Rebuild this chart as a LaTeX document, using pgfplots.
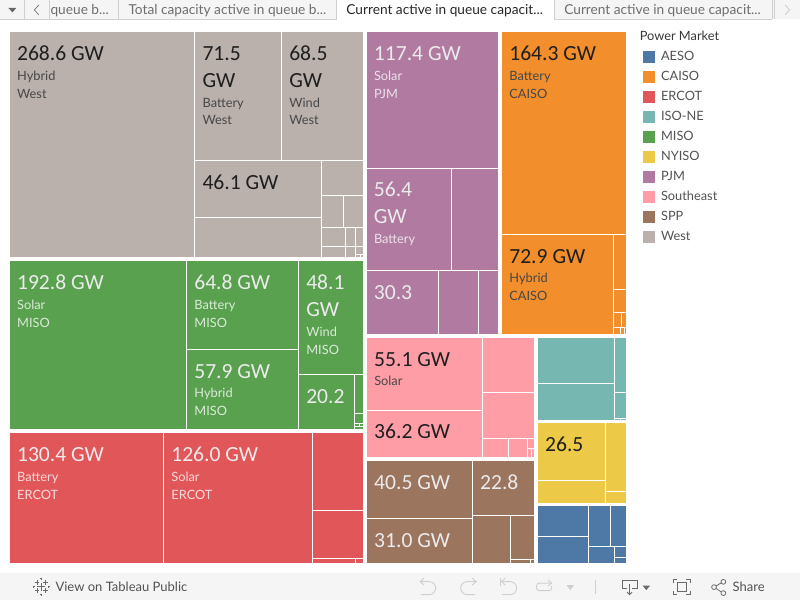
\documentclass[border=0pt]{standalone}
\usepackage{fontspec}
\setmainfont{Lato}
\newfontfamily\valfont{Carlito}
\usepackage{pgfplots}
\pgfplotsset{compat=1.18}
\definecolor{cAESO}{HTML}{4E79A7}
\definecolor{cCAISO}{HTML}{F28E2B}
\definecolor{cERCOT}{HTML}{E15759}
\definecolor{cISONE}{HTML}{76B7B2}
\definecolor{cMISO}{HTML}{59A14F}
\definecolor{cNYISO}{HTML}{EDC948}
\definecolor{cPJM}{HTML}{B07AA1}
\definecolor{cSE}{HTML}{FF9DA7}
\definecolor{cSPP}{HTML}{9C755F}
\definecolor{cWest}{HTML}{BAB0AC}
\definecolor{barbg}{HTML}{F5F5F5}
\definecolor{tabline}{HTML}{CFCFCF}
\definecolor{tabtxt}{HTML}{6E6E6E}
\definecolor{icon}{HTML}{6A6A6A}
\definecolor{icoff}{HTML}{CFCFCF}
\newcommand\cell[5]{\addplot[forget plot,fill=#1,draw=white,line width=1pt] coordinates {(#2,#3)(#4,#3)(#4,#5)(#2,#5)} -- cycle;}
% value labels and sub-labels
\newcommand\vald[3]{\node[anchor=base west,inner sep=0pt,xshift=-.5pt,text=black!88] at (#1,#2) {\valfont\fontsize{21.6}{21.6}\selectfont #3};}
\newcommand\subd[3]{\node[anchor=base west,inner sep=0pt,xshift=-.4pt,text=black!72] at (#1,#2) {\fontsize{12.8}{12.8}\selectfont #3};}
\newcommand\vall[3]{\node[anchor=base west,inner sep=0pt,xshift=-.5pt,text=white!92!black] at (#1,#2) {\valfont\fontsize{21.6}{21.6}\selectfont #3};}
\newcommand\subl[3]{\node[anchor=base west,inner sep=0pt,xshift=-.4pt,text=white,text opacity=.78] at (#1,#2) {\fontsize{12.8}{12.8}\selectfont #3};}
\newcommand\tabtext[3]{\node[anchor=base west,inner sep=0pt,text=#3] at (#1,14.5) {\fontsize{13.7}{13.7}\selectfont #2};}
\begin{document}
\begin{tikzpicture}
\begin{axis}[
  scale only axis,width=800pt,height=600pt,
  xmin=0,xmax=800,ymin=0,ymax=600,y dir=reverse,
  hide axis,clip=false,
  legend cell align=left,
  legend style={at={(axis cs:643,50.2)},anchor=north west,draw=none,fill=none,inner sep=0pt,outer sep=0pt,
    row sep=7pt,
    nodes={inner sep=0pt,text height=10pt,text depth=3pt,font=\fontsize{12.8}{12.8}\selectfont,text=black!68,xshift=0pt},
    /tikz/every odd column/.style={column sep=6pt}},
  legend image code/.code={\fill[#1,draw=none] (0pt,-6pt) rectangle (12pt,6pt);},
]
\addlegendimage{fill=cAESO}\addlegendentry{AESO}
\addlegendimage{fill=cCAISO}\addlegendentry{CAISO}
\addlegendimage{fill=cERCOT}\addlegendentry{ERCOT}
\addlegendimage{fill=cISONE}\addlegendentry{ISO-NE}
\addlegendimage{fill=cMISO}\addlegendentry{MISO}
\addlegendimage{fill=cNYISO}\addlegendentry{NYISO}
\addlegendimage{fill=cPJM}\addlegendentry{PJM}
\addlegendimage{fill=cSE}\addlegendentry{Southeast}
\addlegendimage{fill=cSPP}\addlegendentry{SPP}
\addlegendimage{fill=cWest}\addlegendentry{West}
% West
\cell{cWest}{9.5}{31.5}{194.5}{257.5}
\cell{cWest}{194.5}{31.5}{281.5}{160.5}
\cell{cWest}{281.5}{31.5}{363.5}{160.5}
\cell{cWest}{194.5}{160.5}{321.5}{217.5}
\cell{cWest}{194.5}{217.5}{321.5}{257.5}
\cell{cWest}{321.5}{160.5}{363.5}{195.5}
\cell{cWest}{321.5}{195.5}{343.5}{227.5}
\cell{cWest}{343.5}{195.5}{363.5}{227.5}
\cell{cWest}{321.5}{227.5}{345.5}{246.5}
\cell{cWest}{345.5}{227.5}{355.5}{246.5}
\cell{cWest}{355.5}{227.5}{363.5}{246.5}
\cell{cWest}{321.5}{246.5}{345.5}{257.5}
\cell{cWest}{345.5}{246.5}{355.5}{257.5}
\cell{cWest}{355.5}{246.5}{363.5}{254.5}
\cell{cWest}{355.5}{254.5}{360.5}{257.5}
\cell{cWest}{360.5}{254.5}{363.5}{257.5}
% MISO
\cell{cMISO}{9.5}{260.5}{186.5}{429.5}
\cell{cMISO}{186.5}{260.5}{298.5}{349.5}
\cell{cMISO}{186.5}{349.5}{298.5}{429.5}
\cell{cMISO}{298.5}{260.5}{363.5}{374.5}
\cell{cMISO}{298.5}{374.5}{354.5}{429.5}
\cell{cMISO}{354.5}{374.5}{363.5}{413.5}
\cell{cMISO}{354.5}{413.5}{363.5}{423.5}
\cell{cMISO}{354.5}{423.5}{359.5}{426.5}
\cell{cMISO}{359.5}{423.5}{363.5}{426.5}
\cell{cMISO}{354.5}{426.5}{363.5}{429.5}
% ERCOT
\cell{cERCOT}{9.5}{432.5}{163.5}{563.5}
\cell{cERCOT}{163.5}{432.5}{312.5}{563.5}
\cell{cERCOT}{312.5}{432.5}{363.5}{510.5}
\cell{cERCOT}{312.5}{510.5}{363.5}{558.5}
\cell{cERCOT}{312.5}{558.5}{355.5}{563.5}
\cell{cERCOT}{355.5}{558.5}{363.5}{563.5}
% PJM
\cell{cPJM}{366.5}{31.5}{498.5}{168.5}
\cell{cPJM}{366.5}{168.5}{451.5}{270.5}
\cell{cPJM}{451.5}{168.5}{498.5}{270.5}
\cell{cPJM}{366.5}{270.5}{438.5}{334.5}
\cell{cPJM}{438.5}{270.5}{478.5}{334.5}
\cell{cPJM}{478.5}{270.5}{498.5}{334.5}
% CAISO
\cell{cCAISO}{501.5}{31.5}{626.5}{234.5}
\cell{cCAISO}{501.5}{234.5}{613.5}{334.5}
\cell{cCAISO}{613.5}{234.5}{626.5}{289.5}
\cell{cCAISO}{613.5}{289.5}{626.5}{312.5}
\cell{cCAISO}{613.5}{312.5}{621.5}{327.5}
\cell{cCAISO}{621.5}{312.5}{626.5}{327.5}
\cell{cCAISO}{613.5}{327.5}{620.5}{334.5}
\cell{cCAISO}{620.5}{327.5}{624.5}{334.5}
\cell{cCAISO}{624.5}{327.5}{626.5}{334.5}
% Southeast
\cell{cSE}{366.5}{337.5}{482.5}{410.5}
\cell{cSE}{366.5}{410.5}{482.5}{457.5}
\cell{cSE}{482.5}{337.5}{534.5}{392.5}
\cell{cSE}{482.5}{392.5}{534.5}{438.5}
\cell{cSE}{482.5}{438.5}{508.5}{457.5}
\cell{cSE}{508.5}{438.5}{527.5}{457.5}
\cell{cSE}{527.5}{438.5}{534.5}{448.5}
\cell{cSE}{527.5}{448.5}{531.5}{457.5}
\cell{cSE}{531.5}{448.5}{534.5}{457.5}
% SPP
\cell{cSPP}{366.5}{460.5}{472.5}{518.5}
\cell{cSPP}{366.5}{518.5}{472.5}{563.5}
\cell{cSPP}{472.5}{460.5}{534.5}{515.5}
\cell{cSPP}{472.5}{515.5}{510.5}{563.5}
\cell{cSPP}{510.5}{515.5}{534.5}{559.5}
\cell{cSPP}{510.5}{559.5}{530.5}{563.5}
\cell{cSPP}{530.5}{559.5}{534.5}{563.5}
% ISO-NE
\cell{cISONE}{537.5}{337.5}{614.5}{383.5}
\cell{cISONE}{537.5}{383.5}{614.5}{420.5}
\cell{cISONE}{614.5}{337.5}{626.5}{392.5}
\cell{cISONE}{614.5}{392.5}{626.5}{418.5}
\cell{cISONE}{614.5}{418.5}{620.5}{420.5}
\cell{cISONE}{620.5}{418.5}{626.5}{420.5}
% NYISO
\cell{cNYISO}{537.5}{422.5}{605.5}{480.5}
\cell{cNYISO}{537.5}{480.5}{605.5}{503.5}
\cell{cNYISO}{605.5}{422.5}{626.5}{491.5}
\cell{cNYISO}{605.5}{491.5}{626.5}{503.5}
% AESO
\cell{cAESO}{537.5}{505.5}{588.5}{536.5}
\cell{cAESO}{537.5}{536.5}{588.5}{563.5}
\cell{cAESO}{588.5}{505.5}{610.5}{546.5}
\cell{cAESO}{610.5}{505.5}{626.5}{546.5}
\cell{cAESO}{588.5}{546.5}{614.5}{563.5}
\cell{cAESO}{614.5}{546.5}{626.5}{557.5}
\cell{cAESO}{614.5}{557.5}{626.5}{563.5}
% labels
\vald{17}{60}{268.6 GW}\subd{17}{80}{Hybrid}\subd{17}{98}{West}
\vald{202.5}{60}{71.5}\vald{202.5}{87.2}{GW}\subd{202.5}{106.7}{Battery}\subd{202.5}{124.5}{West}
\vald{289.3}{60}{68.5}\vald{289.3}{87.2}{GW}\subd{289.3}{106.7}{Wind}\subd{289.3}{124.5}{West}
\vald{202.5}{189}{46.1 GW}
\vall{17}{288.8}{192.8 GW}\subl{17}{309}{Solar}\subl{17}{327}{MISO}
\vall{194.3}{288.8}{64.8 GW}\subl{194.3}{309}{Battery}\subl{194.3}{327}{MISO}
\vall{194.3}{377.8}{57.9 GW}\subl{194.3}{397.7}{Hybrid}\subl{194.3}{415.7}{MISO}
\vall{306.3}{288.8}{48.1}\vall{306.3}{316}{GW}\subl{306.3}{336}{Wind}\subl{306.3}{354}{MISO}
\vall{306.3}{403}{20.2}
\vall{17}{461}{130.4 GW}\subl{17}{481}{Battery}\subl{17}{499}{ERCOT}
\vall{171.3}{461}{126.0 GW}\subl{171.3}{481}{Solar}\subl{171.3}{499}{ERCOT}
\vall{374}{60}{117.4 GW}\subl{374}{80}{Solar}\subl{374}{98}{PJM}
\vall{374}{196.5}{56.4}\vall{374}{223.5}{GW}\subl{374}{243.5}{Battery}
\vall{374}{299.5}{30.3}
\vald{509.5}{60}{164.3 GW}\subd{509.5}{80}{Battery}\subd{509.5}{98}{CAISO}
\vald{509.5}{263}{72.9 GW}\subd{509.5}{282.7}{Hybrid}\subd{509.5}{300.7}{CAISO}
\vald{374.3}{366}{55.1 GW}\subd{374.3}{385.7}{Solar}
\vald{374.3}{438.8}{36.2 GW}
\vall{374.3}{489}{40.5 GW}\vall{480.3}{489}{22.8}\vall{374.3}{547}{31.0 GW}
\vald{545.3}{451.5}{26.5}
% legend title
\node[anchor=base west,inner sep=0pt,text=black!78] at (639.5,40) {\fontsize{12.8}{12.8}\selectfont Power Market};
% tab strip
\fill[barbg] (0,0) rectangle (337,19);
\fill[barbg] (554,0) rectangle (800,19);
\draw[tabline,line width=.8pt] (0,19.3) -- (337,19.3) (554,19.3) -- (772,19.3);
\draw[tabline,line width=.8pt] (24.5,0) -- (24.5,19) (49.5,0) -- (49.5,19) (118.5,0) -- (118.5,19) (336.5,0) -- (336.5,19) (554.5,0) -- (554.5,19) (772.5,0) -- (772.5,19) (774.5,0) -- (774.5,19);
\fill[black!60] (8,7.5) -- (16,7.5) -- (12,12) -- cycle;
\draw[black!55,line width=.7pt] (38.5,4.5) -- (34,9.5) -- (38.5,14.5);
\draw[black!22,line width=.7pt] (785,4.5) -- (789.5,9.5) -- (785,14.5);
\tabtext{50}{queue b...}{tabtxt}
\tabtext{128}{Total capacity active in queue b...}{tabtxt}
\tabtext{346}{Current active in queue capacit...}{black!85}
\tabtext{564}{Current active in queue capacit...}{tabtxt}
% toolbar
\fill[barbg] (0,573) rectangle (800,600);
\node[anchor=base west,inner sep=0pt,text=black!68] at (55,591) {\fontsize{13}{13}\selectfont View on Tableau Public};
\node[anchor=base west,inner sep=0pt,text=black!68] at (732.5,591) {\fontsize{13}{13}\selectfont Share};
% tableau mark
\draw[icon,line width=.8pt]
  (37,586.5) -- (45,586.5) (41,582.5) -- (41,590.5)
  (34.5,582.5) -- (39,582.5) (36.8,580.2) -- (36.8,584.8)
  (43,582.5) -- (47.5,582.5) (45.2,580.2) -- (45.2,584.8)
  (34.5,590.5) -- (39,590.5) (36.8,588.2) -- (36.8,592.8)
  (43,590.5) -- (47.5,590.5) (45.2,588.2) -- (45.2,592.8)
  (40,578.5) -- (42,578.5) (41,577.5) -- (41,579.5)
  (40,594.5) -- (42,594.5) (41,593.5) -- (41,595.5)
  (32.5,586.5) -- (34.5,586.5) (33.5,585.5) -- (33.5,587.5)
  (47.5,586.5) -- (49.5,586.5) (48.5,585.5) -- (48.5,587.5);
% undo, redo, revert, refresh
\draw[icoff,line width=.9pt] (420,581.5) -- (429,581.5) arc[start angle=90,end angle=-90,radius=6.5pt] -- (421,594.5);
\draw[icoff,line width=.9pt] (424,578) -- (420,581.5) -- (424,585);
\draw[icoff,line width=.9pt] (476,581.5) -- (467,581.5) arc[start angle=90,end angle=270,radius=6.5pt] -- (475,594.5);
\draw[icoff,line width=.9pt] (472,578) -- (476,581.5) -- (472,585);
\draw[icoff,line width=.9pt] (501.5,581.5) -- (510,581.5) arc[start angle=90,end angle=-90,radius=6.5pt] -- (502,594.5);
\draw[icoff,line width=.9pt] (505,578) -- (501.5,581.5) -- (505,585);
\draw[icoff,line width=.9pt] (500,578) -- (500,586);
\draw[icoff,line width=.9pt,rounded corners=2.5pt] (551.5,583) -- (536.5,583) -- (536.5,590.5) -- (551.5,590.5) -- (551.5,586);
\draw[icoff,line width=.9pt] (548,580) -- (551.5,583) -- (548,586);
\fill[icoff] (566.5,585) -- (574,585) -- (570.2,590) -- cycle;
\draw[icoff,line width=.8pt] (595.5,580) -- (595.5,594);
% download
\draw[icon,line width=.8pt] (627,588) -- (622,588) -- (622,580) -- (637,580) -- (637,588) -- (632,588);
\draw[icon,line width=.8pt] (629.5,584) -- (629.5,594.5) (627,592) -- (629.5,594.5) -- (632,592);
\fill[icon] (642.5,585.5) -- (650,585.5) -- (646.2,590) -- cycle;
% fullscreen
\draw[icon,line width=.8pt] (673,583) -- (673,579.5) -- (677,579.5) (686,579.5) -- (690,579.5) -- (690,583) (673,591) -- (673,594.5) -- (677,594.5) (686,594.5) -- (690,594.5) -- (690,591);
\draw[icon,line width=.8pt] (677,582.5) rectangle (686,591.5);
% share
\draw[icon,line width=.8pt] (714,587) -- (723,581.7) (714,587) -- (723,593);
\draw[icon,fill=barbg,line width=.8pt] (714,587) circle[radius=2.4pt] (723.3,581.7) circle[radius=2.4pt] (723.3,593) circle[radius=2.4pt];
\end{axis}
\path (0,0) rectangle (800pt,600pt);
\end{tikzpicture}
\end{document}
